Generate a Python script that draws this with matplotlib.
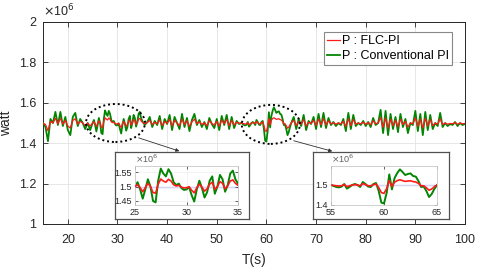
import numpy as np
import matplotlib
matplotlib.use("Agg")
import matplotlib.pyplot as plt
from matplotlib.patches import Ellipse

plt.rcParams['font.family'] = ['Liberation Sans', 'DejaVu Sans']

# sample times (s)
t = np.concatenate([np.arange(15, 25, 0.5), np.arange(25, 35, 0.25),
                    np.arange(35, 55, 0.5), np.arange(55, 65, 0.25),
                    np.arange(65, 100.01, 0.5)])

# power, units of 10^6 W
p_pi = [
    1.50, 1.48, 1.41, 1.52, 1.50, 1.555, 1.49, 1.555, 1.485, 1.53,
    1.465, 1.44, 1.53, 1.55, 1.485, 1.52, 1.50, 1.47, 1.50, 1.465,
    1.500, 1.515, 1.490, 1.458, 1.490, 1.525, 1.500, 1.450, 1.445, 1.520,
    1.562, 1.545, 1.535, 1.560, 1.545, 1.515, 1.505, 1.510, 1.495, 1.488,
    1.490, 1.498, 1.470, 1.448, 1.490, 1.520, 1.495, 1.462, 1.480, 1.520,
    1.535, 1.475, 1.500, 1.540, 1.525, 1.482, 1.505, 1.545, 1.555, 1.525,
    1.510, 1.490, 1.505, 1.530, 1.480, 1.510, 1.490, 1.535, 1.470, 1.520,
    1.495, 1.540, 1.465, 1.530, 1.500, 1.470, 1.545, 1.480, 1.525, 1.460,
    1.515, 1.545, 1.490, 1.515, 1.480, 1.505, 1.470, 1.525, 1.495, 1.475,
    1.520, 1.465, 1.535, 1.490, 1.540, 1.470, 1.530, 1.475, 1.510, 1.495,
    1.500, 1.495, 1.490, 1.488, 1.492, 1.505, 1.482, 1.490, 1.500, 1.505,
    1.500, 1.490, 1.515, 1.505, 1.492, 1.490, 1.505, 1.510, 1.470, 1.412,
    1.408, 1.460, 1.553, 1.478, 1.535, 1.560, 1.578, 1.565, 1.550, 1.555,
    1.558, 1.545, 1.542, 1.520, 1.490, 1.492, 1.470, 1.440, 1.455, 1.480,
    1.500, 1.530, 1.470, 1.520, 1.485, 1.540, 1.465, 1.510, 1.495, 1.530,
    1.470, 1.545, 1.480, 1.550, 1.475, 1.525, 1.490, 1.505, 1.485, 1.500,
    1.490, 1.520, 1.460, 1.550, 1.470, 1.540, 1.485, 1.500, 1.490, 1.510,
    1.485, 1.505, 1.480, 1.525, 1.490, 1.500, 1.565, 1.450, 1.560, 1.440,
    1.545, 1.470, 1.530, 1.455, 1.545, 1.480, 1.520, 1.450, 1.500, 1.490,
    1.560, 1.460, 1.545, 1.440, 1.555, 1.465, 1.540, 1.470, 1.500, 1.485,
    1.550, 1.480, 1.500, 1.485, 1.495, 1.490, 1.505, 1.485, 1.500, 1.490,
    1.495,
]

p_flc = [
    1.500, 1.492, 1.462, 1.508, 1.500, 1.523, 1.496, 1.523, 1.494, 1.513,
    1.485, 1.475, 1.513, 1.521, 1.494, 1.508, 1.500, 1.487, 1.500, 1.485,
    1.500, 1.506, 1.496, 1.482, 1.496, 1.511, 1.500, 1.479, 1.477, 1.508,
    1.526, 1.519, 1.515, 1.525, 1.519, 1.506, 1.502, 1.504, 1.498, 1.495,
    1.496, 1.499, 1.487, 1.478, 1.496, 1.508, 1.498, 1.484, 1.492, 1.508,
    1.515, 1.490, 1.500, 1.517, 1.511, 1.492, 1.502, 1.519, 1.523, 1.511,
    1.504, 1.496, 1.502, 1.513, 1.492, 1.504, 1.496, 1.515, 1.487, 1.508,
    1.498, 1.517, 1.485, 1.513, 1.500, 1.487, 1.519, 1.492, 1.511, 1.483,
    1.506, 1.519, 1.496, 1.506, 1.492, 1.502, 1.487, 1.511, 1.498, 1.490,
    1.508, 1.485, 1.515, 1.496, 1.517, 1.487, 1.513, 1.490, 1.504, 1.498,
    1.500, 1.498, 1.496, 1.495, 1.496, 1.502, 1.492, 1.496, 1.500, 1.502,
    1.500, 1.496, 1.507, 1.502, 1.496, 1.496, 1.502, 1.505, 1.487, 1.462,
    1.458, 1.482, 1.522, 1.492, 1.514, 1.522, 1.526, 1.522, 1.518, 1.520,
    1.521, 1.517, 1.515, 1.508, 1.496, 1.496, 1.486, 1.474, 1.480, 1.491,
    1.500, 1.513, 1.487, 1.508, 1.494, 1.517, 1.485, 1.504, 1.498, 1.513,
    1.487, 1.519, 1.492, 1.521, 1.490, 1.511, 1.496, 1.502, 1.494, 1.500,
    1.496, 1.508, 1.483, 1.521, 1.487, 1.517, 1.494, 1.500, 1.496, 1.504,
    1.494, 1.502, 1.492, 1.511, 1.496, 1.500, 1.527, 1.479, 1.525, 1.475,
    1.519, 1.487, 1.513, 1.481, 1.519, 1.492, 1.508, 1.479, 1.500, 1.496,
    1.525, 1.483, 1.519, 1.475, 1.523, 1.485, 1.517, 1.487, 1.500, 1.494,
    1.521, 1.492, 1.500, 1.494, 1.498, 1.496, 1.502, 1.494, 1.500, 1.496,
    1.498,
]

p_ref = 1.5
labels = ['P : FLC-PI', 'P : Conventional PI']
x_ticks = [20, 30, 40, 50, 60, 70, 80, 90, 100]
y_ticks = [1, 1.2, 1.4, 1.6, 1.8, 2]
zoom1 = dict(xlim=(25, 35), ylim=(1.436, 1.571), yticks=[1.45, 1.5, 1.55], xticks=[25, 30, 35])
zoom2 = dict(xlim=(55, 65), ylim=(1.4, 1.595), yticks=[1.4, 1.5], xticks=[55, 60, 65])

GREEN = '#038503'
RED = '#ff1a1a'
DARK = '#262626'

fig = plt.figure(figsize=(4.8, 2.7), dpi=100)
ax = fig.add_axes([43/480, 1-224/270, 422/480, 202/270])
ax.plot(t, p_pi, color=GREEN, lw=1.3, label=labels[1], zorder=3)
ax.plot(t, p_flc, color=RED, lw=0.9, label=labels[0], zorder=4)
ax.set_xlim(15, 100)
ax.set_ylim(1, 2)
ax.set_xticks(x_ticks)
ax.set_yticks(y_ticks)
ax.set_yticklabels(['1', '1.2', '1.4', '1.6', '1.8', '2'])
ax.grid(True, color='#e3e3e3', lw=0.6)
ax.tick_params(direction='in', length=3.5, width=0.6, labelsize=9, colors=DARK,
               top=True, right=True)
ax.tick_params(axis='x', pad=7)
ax.tick_params(axis='y', pad=5)
for s in ax.spines.values():
    s.set_color(DARK); s.set_linewidth(0.7)
ax.set_xlabel('T(s)', fontsize=10, color=DARK, labelpad=5)
ax.set_ylabel('watt', fontsize=10, color=DARK, labelpad=4)
ax.text(0.0, 1.012, r'$\times$10$^{6}$', transform=ax.transAxes, fontsize=9,
        color=DARK, ha='left', va='bottom')
h, l = ax.get_legend_handles_labels()
leg = ax.legend([h[1], h[0]], [l[1], l[0]], loc='upper right', fontsize=9,
                handlelength=1.0, handletextpad=0.2, borderpad=0.25,
                labelspacing=0.2, fancybox=False, framealpha=1,
                edgecolor='#888888', bbox_to_anchor=(0.985, 0.98))
leg.get_frame().set_linewidth(0.8)

# dotted ellipses
ax.add_patch(Ellipse((29.6, 1.50), 11.9, 0.188, fill=False, ls=(0, (1, 1.5)),
                     lw=1.4, color='black', zorder=5))
ax.add_patch(Ellipse((60.9, 1.493), 11.7, 0.193, fill=False, ls=(0, (1, 1.5)),
                     lw=1.4, color='black', zorder=5))

def inset(box, inner, cfg):
    ob = fig.add_axes(box)
    ob.set_xticks([]); ob.set_yticks([])
    ob.set_facecolor('white')
    for s in ob.spines.values():
        s.set_color('#505050'); s.set_linewidth(0.9)
    ob.set_zorder(10)
    ia = fig.add_axes(inner)
    ia.set_zorder(11)
    ia.axhline(p_ref, color='#9a9aff', lw=0.9, zorder=1)
    ia.plot(t, p_pi, color=GREEN, lw=1.4, zorder=2)
    ia.plot(t, p_flc, color=RED, lw=1.2, zorder=3)
    ia.set_xlim(*cfg['xlim']); ia.set_ylim(*cfg['ylim'])
    ia.set_xticks(cfg['xticks']); ia.set_yticks(cfg['yticks'])
    ia.set_yticklabels([('%g' % v) for v in cfg['yticks']])
    ia.grid(True, color='#eeeeee', lw=0.5)
    ia.tick_params(direction='in', length=2, width=0.5, labelsize=6.5,
                   colors='#262626', pad=2, top=True, right=True)
    for s in ia.spines.values():
        s.set_color('#c8c8c8'); s.set_linewidth(0.6)
    ia.text(0.0, 1.02, r'$\times$10$^{6}$', transform=ia.transAxes, fontsize=6.5,
            color='#606060', ha='left', va='bottom')
    return ia

inset([115/480, 1-219/270, 134/480, 67/270],
      [135/480, 1-205/270, 103/480, 39/270], zoom1)
inset([313/480, 1-219/270, 136/480, 67/270],
      [331/480, 1-205/270, 106/480, 39/270], zoom2)

# arrows from ellipses to insets
for (x0, y0), (x1, y1) in [((136, 137), (182, 152)), ((291, 140), (335, 152))]:
    fig.add_artist(matplotlib.patches.FancyArrowPatch(
        (x0/480, 1-y0/270), (x1/480, 1-y1/270), transform=fig.transFigure,
        arrowstyle='-|>', mutation_scale=5, lw=0.6, color='#303030', zorder=20))

fig.savefig('out.png', dpi=100)
